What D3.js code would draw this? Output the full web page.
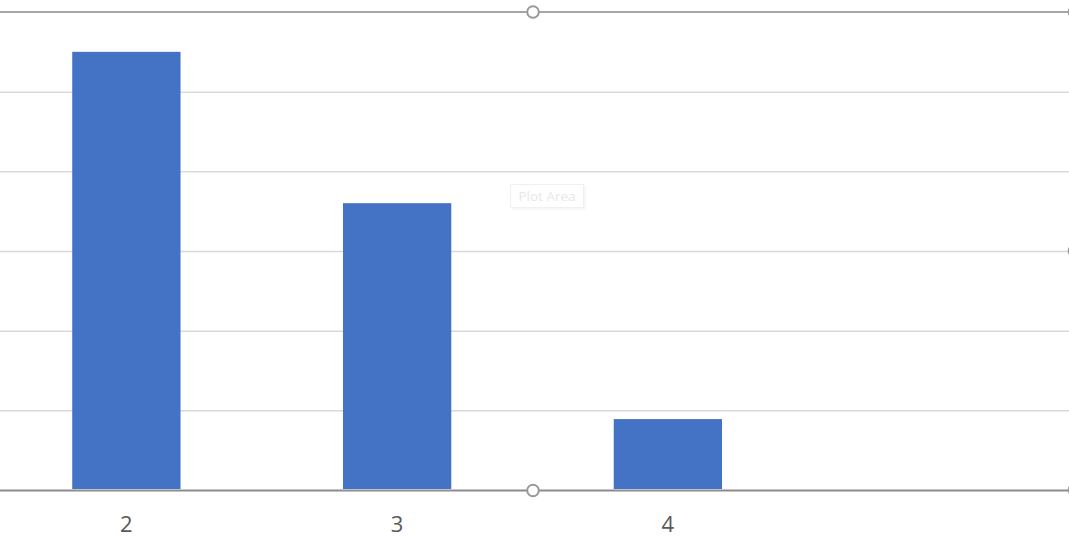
<!DOCTYPE html>
<html>
<head>
<meta charset="utf-8">
<script src="https://cdn.jsdelivr.net/npm/d3@7/dist/d3.min.js"></script>
<style>
  html, body { margin: 0; padding: 0; background: #ffffff; }
  svg { display: block; }
</style>
</head>
<body>
<script>
const categories = ["2", "3", "4", ""];
const values = [5.5, 3.6, 0.89, null];
const yTicks = [0, 1, 2, 3, 4, 5, 6];

const width = 1069;
const height = 538;
const plot = { top: 12, bottom: 490, left: -9, right: 1074 };
const font = "'Open Sans', 'Noto Sans', Arial, sans-serif";

const svg = d3.select("body")
  .append("svg")
  .attr("width", width)
  .attr("height", height)
  .attr("viewBox", `0 0 ${width} ${height}`);

const x = d3.scaleBand()
  .domain(categories)
  .range([plot.left, plot.right])
  .paddingInner(0.6)
  .paddingOuter(0.3);

const y = d3.scaleLinear()
  .domain([0, 6])
  .range([plot.bottom, plot.top]);

// gridlines
svg.append("g")
  .selectAll("line")
  .data(yTicks.filter((t) => t > 0 && t < 6))
  .join("line")
  .attr("x1", 0)
  .attr("x2", width)
  .attr("y1", (d) => y(d) + 0.5)
  .attr("y2", (d) => y(d) + 0.5)
  .attr("stroke", "#d9d9d9")
  .attr("stroke-width", 1.5);

// bars
svg.append("g")
  .selectAll("rect")
  .data(categories.map((c, i) => ({ c, v: values[i] })).filter((d) => d.v != null))
  .join("rect")
  .attr("x", (d) => x(d.c))
  .attr("y", (d) => y(d.v))
  .attr("width", x.bandwidth())
  .attr("height", (d) => y(0) - 1 - y(d.v))
  .attr("fill", "#4472c4");

// plot area selection border (top)
svg.append("line")
  .attr("x1", 0).attr("x2", width)
  .attr("y1", y(6)).attr("y2", y(6))
  .attr("stroke", "#a6a6a6")
  .attr("stroke-width", 2);

// category axis
const xAxis = svg.append("g")
  .attr("transform", `translate(0,${y(0)})`)
  .call(d3.axisBottom(x).tickSize(0).tickPadding(26));
xAxis.select(".domain").remove();
xAxis.append("line")
  .attr("x1", 0).attr("x2", width)
  .attr("y1", 0.5).attr("y2", 0.5)
  .attr("stroke", "#8c8c8c")
  .attr("stroke-width", 2);
xAxis.selectAll("text")
  .attr("fill", "#595959")
  .attr("font-family", font)
  .attr("font-size", 22);

// selection handles
const midX = 533;
const handles = [
  [midX, y(6)], [midX, y(0) + 0.5],
  [width + 5.5, y(6)], [width + 5.5, y(3)], [width + 5.5, y(0)]
];
svg.append("g")
  .selectAll("circle")
  .data(handles)
  .join("circle")
  .attr("cx", (d) => d[0])
  .attr("cy", (d) => d[1])
  .attr("r", 5.8)
  .attr("fill", "#ffffff")
  .attr("stroke", "#999999")
  .attr("stroke-width", 2);

// "Plot Area" tooltip
const tip = svg.append("g").attr("transform", "translate(510,184)");
tip.append("rect")
  .attr("x", 2).attr("y", 2)
  .attr("width", 74).attr("height", 24)
  .attr("fill", "#f7f7f7");
tip.append("rect")
  .attr("x", 0.5).attr("y", 0.5)
  .attr("width", 73).attr("height", 23)
  .attr("fill", "#ffffff")
  .attr("stroke", "#f0f0f0");
tip.append("text")
  .attr("x", 37).attr("y", 17)
  .attr("text-anchor", "middle")
  .attr("fill", "#e8e8e8")
  .attr("font-family", font)
  .attr("font-size", 13.5)
  .text("Plot Area");
</script>
</body>
</html>
